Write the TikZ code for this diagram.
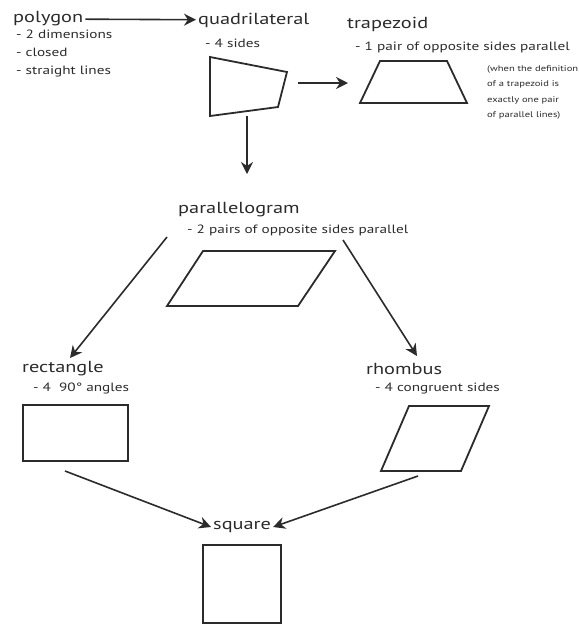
\documentclass[tikz,border=0pt]{standalone}
\usepackage{fontspec}
\setmainfont[FakeStretch=1.27]{PT Sans}
\usetikzlibrary{arrows.meta}
\definecolor{ink}{HTML}{2B2B2B}
\tikzset{
    title/.style = {
        anchor    = west,
        inner sep = 2pt,
        text      = ink,
        font      = \fontsize{16}{18}\selectfont,
    },
    detail/.style = {
        anchor    = west,
        inner sep = 0pt,
        text      = ink,
        align     = left,
        font      = \fontsize{12}{18}\selectfont,
    },
    remark/.style = {
        anchor    = north west,
        inner sep = 0pt,
        text      = ink,
        align     = left,
        font      = \fontsize{8.3}{15.5}\selectfont,
    },
    figure/.style = {draw=ink, line width=1.8pt, line join=miter},
    arrow/.style  = {draw=ink, line width=1.6pt, -{Stealth[length=12pt,width=12pt]}},
}

\begin{document}
\begin{tikzpicture}[x=1pt,y=-1pt]
  \useasboundingbox (0,0) rectangle (579,625);

  % polygon
  \node[title] (polygon) at (11,19) {polygon};
  \node[detail,anchor=north west] (polygonnote) at (16,30) {- 2 dimensions\\- closed\\- straight lines};

  % quadrilateral
  \node[title] (quadrilateral) at (196,20) {quadrilateral};
  \node[detail] (quadnote) at (205,43) {- 4 sides};
  \draw[figure] (210,57) -- (287,72) -- (278,107) -- (210,116) -- cycle;
  \coordinate (quadright) at (298,83);
  \coordinate (quadbottom) at (247,116);

  % trapezoid
  \node[title] (trapezoid) at (345,24) {trapezoid};
  \node[detail] (trapnote) at (355,47) {- 1 pair of opposite sides parallel};
  \node[remark] (trapremark) at (487,65) {(when the definition\\of a trapezoid is\\exactly one pair\\of parallel lines)};
  \draw[figure] (360,103) -- (380,61) -- (447,61) -- (467,103) -- cycle;
  \coordinate (trapleft) at (348,83);

  % parallelogram
  \node[title] (parallelogram) at (176,210) {parallelogram};
  \node[detail] (paranote) at (187,230) {- 2 pairs of opposite sides parallel};
  \draw[figure] (167,306) -- (203,251) -- (335,251) -- (298,306) -- cycle;
  \coordinate (paratop) at (247,174);
  \coordinate (paraleft) at (167,237);
  \coordinate (pararight) at (343,240);

  % rectangle
  \node[title] (rectangle) at (20,369) {rectangle};
  \node[detail] (rectnote) at (33,388) {- 4\ \ 90° angles};
  \draw[figure] (23,405) rectangle (128,461);
  \coordinate (recttop) at (70,358);
  \coordinate (rectbottom) at (65,471);

  % rhombus
  \node[title] (rhombus) at (364,369) {rhombus};
  \node[detail] (rhombnote) at (375,388) {- 4 congruent sides};
  \draw[figure] (381,471) -- (409,406) -- (489,406) -- (461,471) -- cycle;
  \coordinate (rhombtop) at (417,356);
  \coordinate (rhombbottom) at (418,476);

  % square
  \node[title] (square) at (211,527) {square};
  \draw[figure] (203,545) rectangle (281,623);

  \draw[arrow] (polygon) -- (quadrilateral);
  \draw[arrow] (quadright) -- (trapleft);
  \draw[arrow] (quadbottom) -- (paratop);
  \draw[arrow] (paraleft) -- (recttop);
  \draw[arrow] (pararight) -- (rhombtop);
  \draw[arrow] (rectbottom) -- (square.west);
  \draw[arrow] (rhombbottom) -- (square.east);

\end{tikzpicture}
\end{document}
